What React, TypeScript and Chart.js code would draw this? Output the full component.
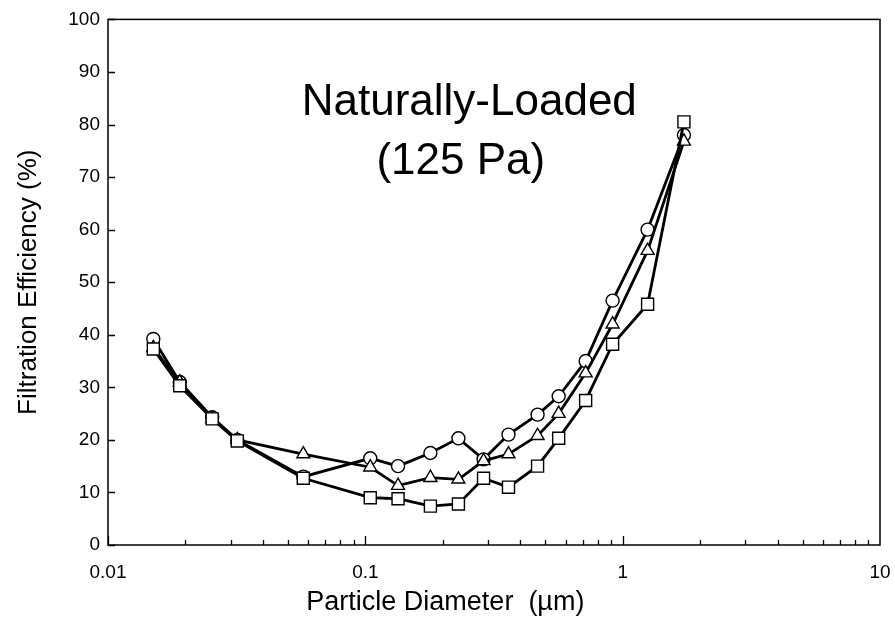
import React, { useEffect, useRef } from "react";
import { Chart, registerables } from "chart.js";

Chart.register(...registerables);

// Particle diameters (µm)
const diameters = [0.015, 0.019, 0.0254, 0.0318, 0.0574, 0.1045, 0.134, 0.179, 0.23, 0.288, 0.36, 0.467, 0.564, 0.718, 0.914, 1.25, 1.73];
// Filtration efficiency (%) per series
const circleSeries = [39.2, 31, 24.3, 20, 13, 16.5, 15, 17.5, 20.3, 16.3, 21, 24.8, 28.3, 35, 46.5, 60, 78];
const triangleSeries = [37.5, 31, 24, 20, 17.3, 14.8, 11.3, 12.8, 12.5, 16, 17.3, 20.8, 25, 32.7, 42, 56, 76.8];
const squareSeries = [37.3, 30.3, 24, 19.8, 12.7, 9, 8.8, 7.4, 7.8, 12.7, 11, 15, 20.3, 27.5, 38.2, 45.8, 80.5];

const xTickValues = [0.01, 0.1, 1, 10];
const yTickValues = [0, 10, 20, 30, 40, 50, 60, 70, 80, 90, 100];
const titleLines = ["Naturally-Loaded", "(125 Pa)"];
const xAxisTitle = "Particle Diameter  (µm)";
const yAxisTitle = "Filtration Efficiency (%)";

const FONT = "'Liberation Sans', Arial, Helvetica, sans-serif";

const framePlugin = {
  id: "frameTicks",
  beforeDatasetsDraw(chart: any) {
    const { ctx, chartArea, scales } = chart;
    const { left, right, top, bottom } = chartArea;
    const x = scales.x;
    const y = scales.y;
    ctx.save();
    ctx.strokeStyle = "#000";
    ctx.lineWidth = 1.5;
    ctx.strokeRect(left, top, right - left, bottom - top);
    ctx.lineWidth = 1.3;
    ctx.beginPath();
    for (const v of yTickValues) {
      const py = Math.round(y.getPixelForValue(v)) + 0.5;
      ctx.moveTo(left, py);
      ctx.lineTo(left + 7, py);
    }
    for (let k = -2; k < 1; k++) {
      for (let m = 1; m <= 9; m++) {
        const v = m * Math.pow(10, k);
        const px = Math.round(x.getPixelForValue(v)) + 0.5;
        const len = m === 1 ? 9 : 5;
        ctx.moveTo(px, bottom);
        ctx.lineTo(px, bottom - len);
      }
    }
    ctx.stroke();
    ctx.restore();
  },
  afterDraw(chart: any) {
    const { ctx, chartArea } = chart;
    const { left, right, top, bottom } = chartArea;
    const w = right - left;
    const h = bottom - top;
    ctx.save();
    ctx.fillStyle = "#000";
    ctx.font = `44px ${FONT}`;
    ctx.textAlign = "center";
    ctx.textBaseline = "alphabetic";
    ctx.fillText(titleLines[0], left + w * 0.468, top + h * 0.182);
    ctx.fillText(titleLines[1], left + w * 0.457, top + h * 0.294);
    // x-axis title (offset left of centre as in the source figure)
    ctx.font = `27px ${FONT}`;
    ctx.textBaseline = "middle";
    ctx.fillText(xAxisTitle, left + w * 0.437, bottom + 58);
    ctx.restore();
  },
};

function makeDataset(label: string, values: number[], pointStyle: string, radius: number) {
  return {
    label,
    data: diameters.map((d, i) => ({ x: d, y: values[i] })),
    borderColor: "#000",
    borderWidth: 2.8,
    pointStyle,
    pointRadius: radius,
    pointBorderWidth: 1.4,
    pointBorderColor: "#000",
    pointBackgroundColor: "#fff",
    tension: 0,
    fill: false,
  };
}

export default function App() {
  const canvasRef = useRef<HTMLCanvasElement | null>(null);

  useEffect(() => {
    const canvas = canvasRef.current;
    if (!canvas) return;
    const chart = new Chart(canvas, {
      type: "line",
      data: {
        datasets: [
          makeDataset("Square", squareSeries, "rect", 8.5),
          makeDataset("Triangle", triangleSeries, "triangle", 7.5),
          makeDataset("Circle", circleSeries, "circle", 6.5),
        ],
      },
      options: {
        animation: false,
        responsive: false,
        maintainAspectRatio: false,
        layout: { padding: { top: 16, right: 0, left: 0, bottom: 0 } },
        plugins: { legend: { display: false }, tooltip: { enabled: false } },
        scales: {
          x: {
            type: "logarithmic",
            min: 0.01,
            max: 10,
            grid: { display: false, drawTicks: false },
            border: { display: false },
            afterBuildTicks: (scale: any) => {
              scale.ticks = xTickValues.map((v) => ({ value: v }));
            },
            afterFit: (scale: any) => {
              scale.height = 73;
              scale.paddingLeft = 0;
              scale.paddingRight = 15;
            },
            ticks: {
              autoSkip: false,
              maxRotation: 0,
              padding: 16,
              color: "#000",
              font: { family: FONT, size: 19 },
              callback: (v: any) => String(Number(v)),
            },
            title: { display: false },
          },
          y: {
            type: "linear",
            min: 0,
            max: 100,
            grid: { display: false, drawTicks: false },
            border: { display: false },
            afterBuildTicks: (scale: any) => {
              scale.ticks = yTickValues.map((v) => ({ value: v }));
            },
            afterFit: (scale: any) => {
              scale.width = 108;
            },
            ticks: {
              padding: 8,
              color: "#000",
              font: { family: FONT, size: 19 },
            },
            title: {
              display: true,
              text: yAxisTitle,
              color: "#000",
              font: { family: FONT, size: 26, lineHeight: 1 },
              padding: { top: 16, bottom: 0 },
            },
          },
        },
      },
      plugins: [framePlugin],
    } as any);
    return () => chart.destroy();
  }, []);

  return (
    <div style={{ position: "fixed", left: 0, top: 0, width: 895, height: 618, background: "#fff" }}>
      <canvas ref={canvasRef} width={895} height={618} style={{ display: "block", width: 895, height: 618 }} />
    </div>
  );
}
